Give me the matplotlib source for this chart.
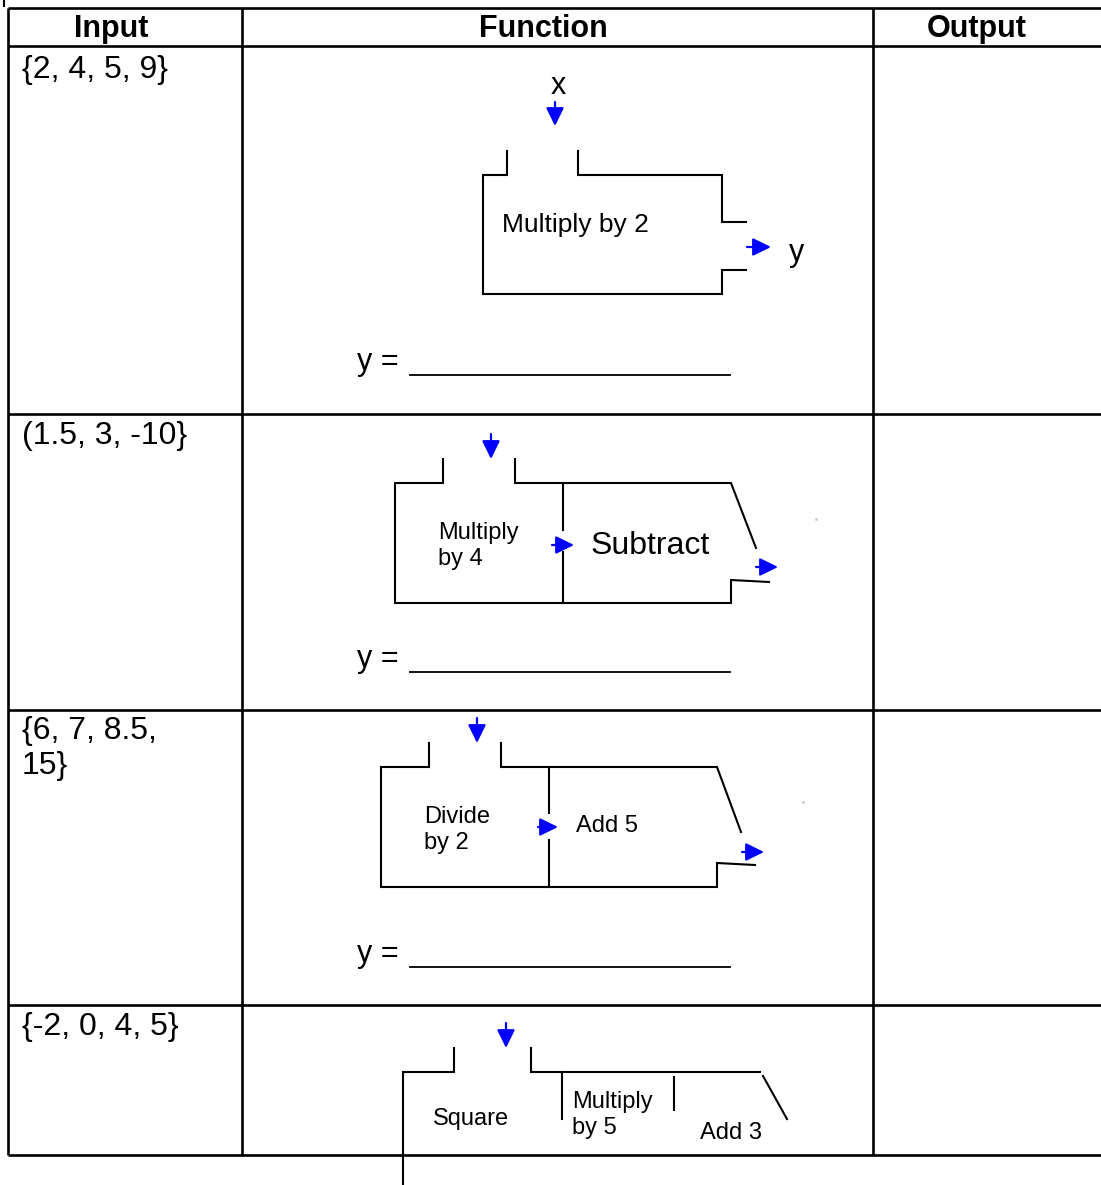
import matplotlib
matplotlib.use("Agg")
import matplotlib.pyplot as plt

plt.rcParams['font.family'] = ['Liberation Sans', 'DejaVu Sans']

# table layout (pixel grid of the worksheet)
headers = ['Input', 'Function', 'Output']
header_x = [111, 543, 977]
col_lines = [8, 242, 873]
row_lines = [8, 46, 414, 710, 1005, 1155]
inputs = ['{2, 4, 5, 9}', '(1.5, 3, -10}', '{6, 7, 8.5,\n15}', '{-2, 0, 4, 5}']
input_y = [55, 421, 716, 1012]
answer_y = [362, 659, 954]

# machine outlines, one list of polylines per machine
machines = [
    [[(507, 151), (507, 175), (483, 175), (483, 294), (722, 294), (722, 270), (746, 270)],
     [(578, 151), (578, 175), (722, 175), (722, 222), (746, 222)]],
    [[(443, 459), (443, 483), (395, 483), (395, 603), (731, 603), (731, 580), (769, 582)],
     [(515, 459), (515, 483), (731, 483), (756, 548)],
     [(563, 483), (563, 530)], [(563, 552), (563, 603)]],
    [[(429, 743), (429, 767), (381, 767), (381, 887), (717, 887), (717, 863), (755, 865)],
     [(501, 743), (501, 767), (717, 767), (741, 832)],
     [(549, 767), (549, 813)], [(549, 840), (549, 887)]],
    [[(454, 1048), (454, 1072), (403, 1072), (403, 1185)],
     [(531, 1048), (531, 1072), (760, 1072)],
     [(562, 1072), (562, 1119)], [(674, 1077), (674, 1110)],
     [(763, 1076), (787, 1119)]],
]

# blue arrows: (tail, tip)
arrows = [
    ((555, 102), (555, 126)), ((747, 247), (771, 247)),
    ((491, 434), (491, 459)), ((552, 545), (574, 545)), ((756, 567), (778, 567)),
    ((477, 718), (477, 743)), ((538, 827), (558, 827)), ((742, 852), (764, 852)),
    ((506, 1023), (506, 1048)),
]

# labels inside the machines: (x, y, text, size, align)
labels = [
    (558, 86, 'x', 22, 'center'), (797, 253, 'y', 22, 'center'),
    (502, 225, 'Multiply by 2', 19, 'left'),
    (438, 546, 'Multiply\nby 4', 17, 'left'), (591, 546, 'Subtract', 23, 'left'),
    (424, 830, 'Divide\nby 2', 17, 'left'), (576, 826, 'Add 5', 17, 'left'),
    (433, 1119, 'Square', 17, 'left'), (572, 1115, 'Multiply\nby 5', 17, 'left'),
    (700, 1133, 'Add 3', 17, 'left'),
]

fig = plt.figure(figsize=(11.01, 11.85), dpi=100)
ax = fig.add_axes([0, 0, 1, 1])
ax.set_xlim(0, 1101)
ax.set_ylim(1185, 0)
ax.axis('off')

# grid
for y in row_lines:
    ax.plot([8, 1101], [y, y], color='black', lw=1.9, solid_capstyle='butt')
for x in col_lines:
    ax.plot([x, x], [8, 1155], color='black', lw=1.9, solid_capstyle='butt')
ax.plot([4, 4], [0, 6], color='black', lw=1.5)

for hx, h in zip(header_x, headers):
    ax.text(hx, 29, h, ha='center', va='center', fontsize=22, fontweight='bold')
for iy, t in zip(input_y, inputs):
    ax.text(22, iy, t, ha='left', va='top', fontsize=23, linespacing=1.2)
for ay in answer_y:
    ax.text(357, ay, 'y = ', ha='left', va='center', fontsize=22)
    ax.plot([410, 730], [ay + 13, ay + 13], color='black', lw=1.3)

for m in machines:
    for seg in m:
        xs = [p[0] for p in seg]
        ys = [p[1] for p in seg]
        ax.plot(xs, ys, color='black', lw=1.5, solid_joinstyle='miter')

for tail, tip in arrows:
    ax.annotate('', xy=tip, xytext=tail,
                arrowprops=dict(arrowstyle='-|>,head_length=0.55,head_width=0.27',
                                color='#0000ff', lw=1.6,
                                mutation_scale=20, shrinkA=0, shrinkB=0))

for lx, ly, t, s, ha in labels:
    ax.text(lx, ly, t, ha=ha, va='center', fontsize=s, linespacing=1.2)

# faint specks
ax.plot([816, 803], [519, 802], 's', color='#cccccc', ms=1)

fig.savefig('out.png', dpi=100)
